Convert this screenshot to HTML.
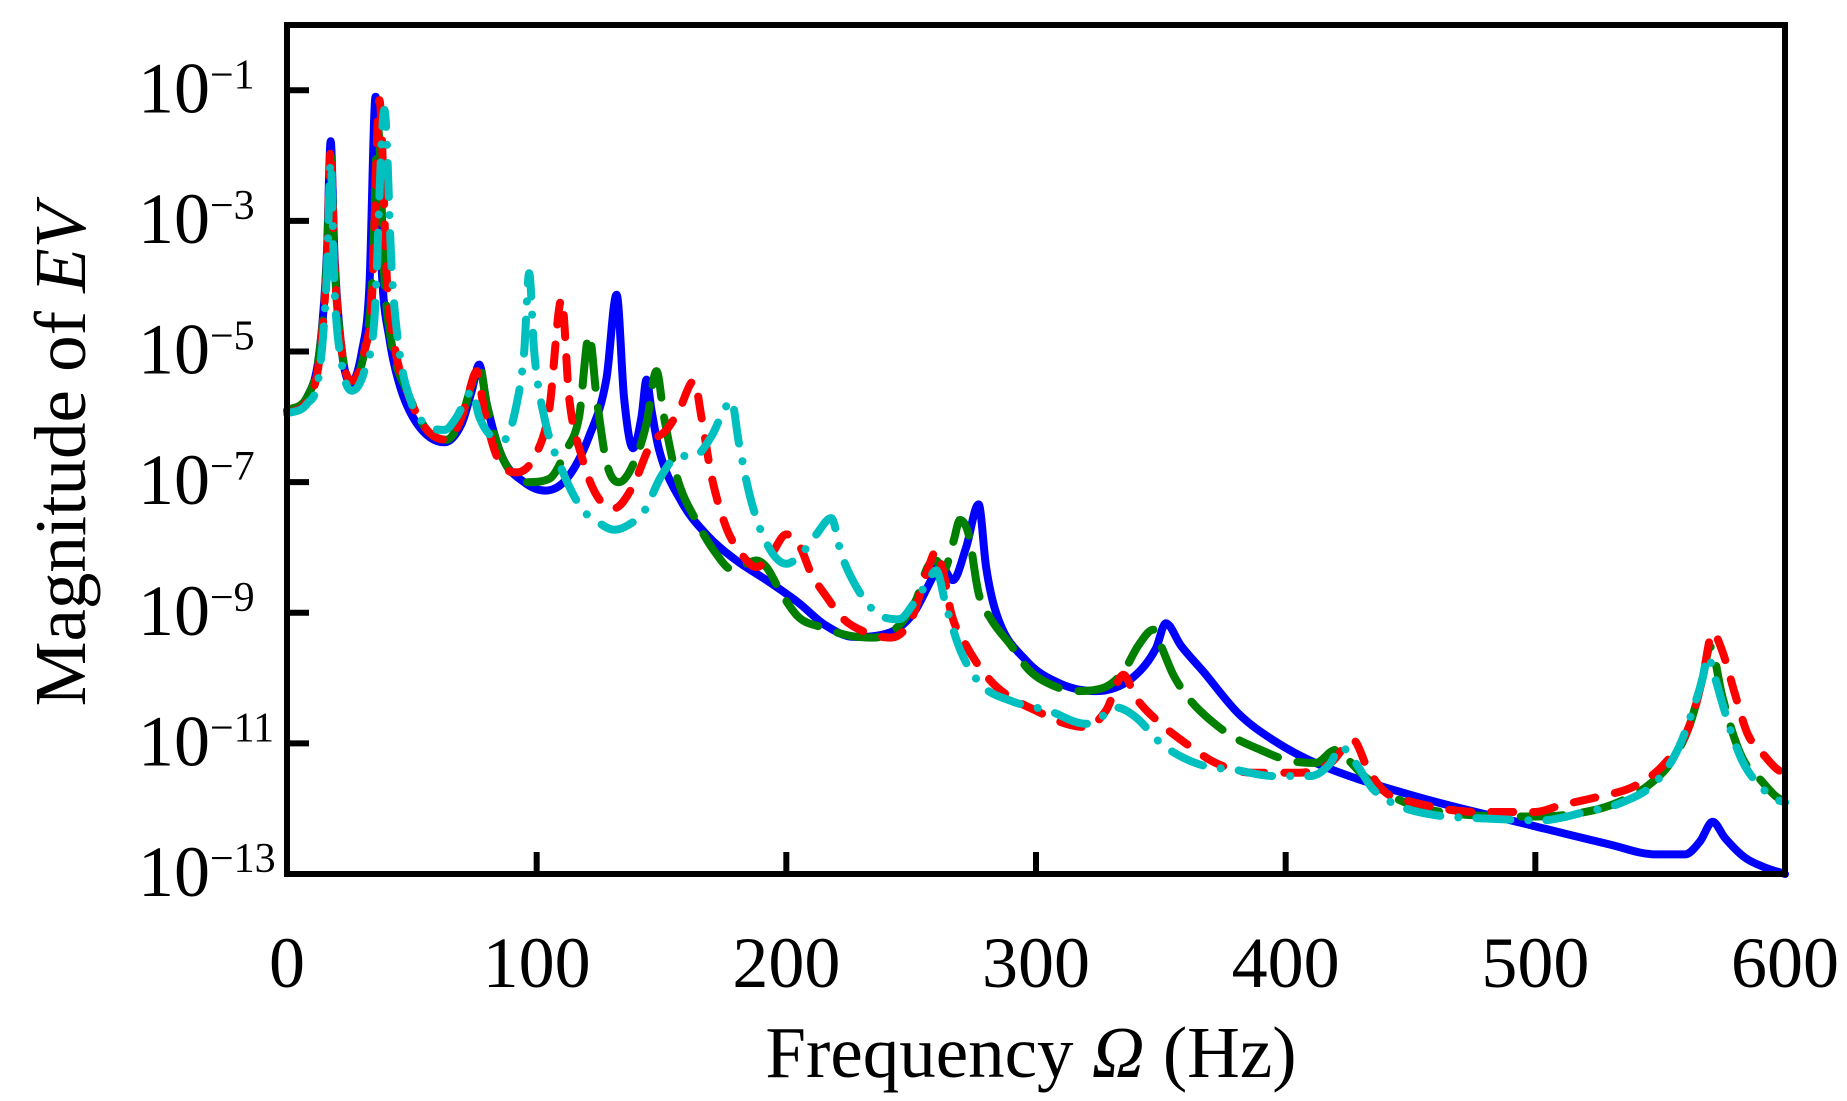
<!DOCTYPE html>
<html><head><meta charset="utf-8">
<style>
html,body{margin:0;padding:0;background:#fff;}
svg{display:block;}
text{font-family:"Liberation Serif","Times New Roman",serif;fill:#000;}
</style></head>
<body>
<svg id="chart" width="1847" height="1101" viewBox="0 0 1847 1101" xmlns="http://www.w3.org/2000/svg">
  <g id="series"></g>
  <g id="axes"></g>
  <text x="1031" y="1077" font-size="73" text-anchor="middle">Frequency <tspan font-style="italic">Ω</tspan> (Hz)</text>
  <text transform="translate(85,455) rotate(-90)" font-size="73" text-anchor="middle">Magnitude of <tspan font-style="italic">EV</tspan></text>
</svg>
<script>
// x ticks
const xTicks = [0,100,200,300,400,500,600];
// y tick exponents
const yTicks = [-1,-3,-5,-7,-9,-11,-13];

// Blue solid series: frequency (Hz) and log10 magnitude
const blueF = [0,8,13,16,17.5,19,22,25.5,30,33,35.5,38,41,45,52,63,70,74,77,80,86,95,103.5,112,121,128,132,135,138.6,142,144,146,149,158,168,180,192,205,215.6,227,241.6,251,258,261.5,266.7,272,277,280,284,296,310,324,338.5,348,352,358,367,381,395,412,451,499,530,548,560,566,571,576,584,592,600];
const blueL = [-5.93,-5.7,-5.0,-3.5,-1.78,-3.5,-5.0,-5.48,-5.0,-4.0,-1.1,-3.8,-4.8,-5.5,-6.1,-6.39,-6.1,-5.6,-5.2,-5.8,-6.6,-7.0,-7.13,-6.95,-6.3,-5.4,-4.13,-5.7,-6.48,-6.0,-5.43,-5.9,-6.5,-7.3,-7.8,-8.2,-8.5,-8.85,-9.19,-9.37,-9.3,-9.0,-8.5,-8.25,-8.5,-8.0,-7.34,-8.3,-9.0,-9.73,-10.09,-10.2,-10.0,-9.55,-9.16,-9.5,-9.9,-10.54,-10.95,-11.3,-11.8,-12.26,-12.55,-12.7,-12.7,-12.5,-12.2,-12.45,-12.75,-12.9,-13.0];

// Red dashed series
const redF = [0,8,13,16,17.5,19,22,26,31,34,37,40,43,48,56,64,70,73,76,79,84,92,100,105,110,113,118,124,131,138,146,152,157,163,166,170,176,182,188,194,200,205,210,216,223,232,242,250,257,260,263,266,272,282,290,300,312,320,328,335,340,350,360,372,387,405,418,427,433,440,451,477,500,510,525,540,552,562,567,571,575,580,585,592,597,600];
const redL = [-5.95,-5.75,-5.1,-3.6,-1.9,-3.6,-5.0,-5.45,-5.0,-4.2,-1.15,-3.9,-4.9,-5.6,-6.2,-6.35,-6.0,-5.6,-5.3,-5.9,-6.6,-6.85,-6.55,-5.9,-4.2,-5.7,-6.6,-7.2,-7.4,-7.1,-6.4,-6.2,-5.9,-5.45,-6.0,-6.9,-7.7,-8.1,-8.3,-8.1,-7.8,-7.95,-8.4,-8.75,-9.1,-9.3,-9.38,-9.1,-8.3,-8.05,-8.4,-9.0,-9.5,-10.05,-10.3,-10.5,-10.7,-10.75,-10.5,-9.95,-10.3,-10.7,-11.0,-11.3,-11.45,-11.45,-11.3,-10.95,-11.4,-11.75,-11.9,-12.05,-12.05,-11.95,-11.82,-11.65,-11.3,-10.7,-10.0,-9.3,-9.6,-10.25,-10.85,-11.2,-11.4,-11.45];

// Green long-dashed series
const greenF = [0,8,13,16,17.5,19,22,26,31,34,36.5,39,42,48,56,64,70,74,77,80,86,96,105,112,117,121,124,128,133,139,144,148,151,156,164,172,178,184,188,192,198,205,215,225,235,245,252,256.6,260,263,267,269.5,273,277,282,290,297,306,316,327,335,341,347,350,355,362,370,379,390,400,412,420,425,430,440,451,475,500,515,530,545,555,562,567,570,575,580,584,590,596,600];
const greenL = [-5.9,-5.7,-5.0,-3.6,-2.0,-3.6,-5.0,-5.45,-5.0,-4.0,-1.6,-3.9,-4.9,-5.6,-6.2,-6.35,-6.0,-5.5,-5.2,-5.8,-6.6,-7.0,-6.95,-6.5,-6.0,-4.75,-5.7,-6.7,-7.0,-6.7,-6.1,-5.3,-6.0,-6.9,-7.6,-8.1,-8.33,-8.25,-8.2,-8.3,-8.7,-9.07,-9.23,-9.35,-9.38,-9.2,-8.8,-8.3,-8.2,-8.35,-7.9,-7.58,-7.8,-8.7,-9.1,-9.5,-9.87,-10.1,-10.2,-10.15,-9.9,-9.5,-9.26,-9.5,-9.95,-10.35,-10.65,-10.9,-11.1,-11.25,-11.3,-11.1,-11.25,-11.45,-11.75,-11.95,-12.1,-12.12,-12.08,-11.95,-11.65,-11.25,-10.7,-10.0,-9.52,-10.3,-10.95,-11.3,-11.55,-11.8,-11.9];

// Cyan dash-dot series
const cyanF = [0,8,13,16,17.5,19,22,26,31,35,39,42,45,50,57,63,68,72,74,77,82,87,92,95,97,99,103,110,118,126,131,137,143,150,157,163,170,175,178,181,186,193,200,206,212,218,222,228,236,245,252,257,260,264,270,278,290,305,320,328,332,340,350,358,368,379,395,410,418,422,428,435,445,460,480,502,520,535,548,557,563,567,569,572,575,580,584,590,596,600];
const cyanL = [-5.95,-5.8,-5.3,-3.8,-2.1,-4.0,-5.2,-5.6,-5.3,-4.5,-1.3,-3.8,-5.0,-5.8,-6.15,-6.2,-6.0,-5.7,-5.6,-6.0,-6.3,-6.35,-5.8,-5.0,-3.8,-5.0,-6.0,-6.8,-7.4,-7.65,-7.73,-7.65,-7.45,-6.9,-6.6,-6.6,-6.3,-5.9,-5.75,-6.4,-7.3,-8.0,-8.25,-8.1,-7.8,-7.55,-8.1,-8.6,-9.0,-9.1,-8.8,-8.5,-8.35,-8.9,-9.6,-10.1,-10.35,-10.5,-10.7,-10.55,-10.45,-10.6,-11.0,-11.2,-11.35,-11.4,-11.5,-11.5,-11.3,-11.05,-11.3,-11.7,-11.95,-12.1,-12.15,-12.18,-12.05,-11.9,-11.6,-11.1,-10.5,-10.0,-9.67,-10.0,-10.4,-11.0,-11.35,-11.65,-11.85,-11.9];

const NS = "http://www.w3.org/2000/svg";
const X0 = 287, X1 = 1785, Y_TOP = 25, Y_BOT = 874;
const L_TOP = 0, L_BOT = -13;
function xs(f){ return X0 + (f - 0) / 600 * (X1 - X0); }
function ys(l){ return Y_TOP + (L_TOP - l) / (L_TOP - L_BOT) * (Y_BOT - Y_TOP); }

const seriesG = document.getElementById('series');
const axesG = document.getElementById('axes');

// monotone cubic (Fritsch-Carlson) path through points
function monoPath(px, py){
  const n = px.length, d = [], m = new Array(n);
  for (let i = 0; i < n - 1; i++) d.push((py[i+1]-py[i])/(px[i+1]-px[i]));
  m[0] = d[0]; m[n-1] = d[n-2];
  for (let i = 1; i < n - 1; i++){
    m[i] = (d[i-1]*d[i] <= 0) ? 0 : (d[i-1] + d[i]) / 2;
  }
  for (let i = 0; i < n - 1; i++){
    if (d[i] === 0){ m[i] = 0; m[i+1] = 0; continue; }
    const a = m[i]/d[i], b = m[i+1]/d[i], s = a*a + b*b;
    if (s > 9){ const t = 3/Math.sqrt(s); m[i] = t*a*d[i]; m[i+1] = t*b*d[i]; }
  }
  let p = 'M' + px[0].toFixed(1) + ',' + py[0].toFixed(1);
  for (let i = 0; i < n - 1; i++){
    const h = (px[i+1]-px[i]) / 3;
    p += 'C' + (px[i]+h).toFixed(1) + ',' + (py[i]+m[i]*h).toFixed(1) + ' ' +
         (px[i+1]-h).toFixed(1) + ',' + (py[i+1]-m[i+1]*h).toFixed(1) + ' ' +
         px[i+1].toFixed(1) + ',' + py[i+1].toFixed(1);
  }
  return p;
}

function drawSeries(F, L, color, dash, name){
  const p = document.createElementNS(NS, 'path');
  p.setAttribute('d', monoPath(F.map(xs), L.map(ys)));
  p.setAttribute('fill', 'none');
  p.setAttribute('stroke', color);
  p.setAttribute('stroke-width', '8');
  p.setAttribute('stroke-linecap', 'round');
  p.setAttribute('stroke-linejoin', 'round');
  if (dash) p.setAttribute('stroke-dasharray', dash);
  
  
  seriesG.appendChild(p);
}
drawSeries(blueF, blueL, '#0000ff', null, 'series-blue-solid');
drawSeries(greenF, greenL, '#007f00', '42 20', 'series-green-long-dash');
drawSeries(redF, redL, '#ff0000', '22 20', 'series-red-dashed');
drawSeries(cyanF, cyanL, '#00bfbf', '34 18 0.1 18', 'series-cyan-dash-dot');

// frame
const frame = document.createElementNS(NS, 'rect');
frame.setAttribute('x', X0); frame.setAttribute('y', Y_TOP);
frame.setAttribute('width', X1 - X0); frame.setAttribute('height', Y_BOT - Y_TOP);
frame.setAttribute('fill', 'none'); frame.setAttribute('stroke', '#000'); frame.setAttribute('stroke-width', '6');


axesG.appendChild(frame);

xTicks.forEach(v => {
  const x = xs(v);
  const t = document.createElementNS(NS, 'line');
  t.setAttribute('x1', x); t.setAttribute('x2', x);
  t.setAttribute('y1', Y_BOT); t.setAttribute('y2', Y_BOT - 22);
  t.setAttribute('stroke', '#000'); t.setAttribute('stroke-width', '6');
  
  
  axesG.appendChild(t);
  const lb = document.createElementNS(NS, 'text');
  lb.setAttribute('x', x); lb.setAttribute('y', 987);
  lb.setAttribute('font-size', '72'); lb.setAttribute('text-anchor', 'middle');
  lb.textContent = String(v);
  
  
  axesG.appendChild(lb);
});

yTicks.forEach(e => {
  const y = ys(e);
  const t = document.createElementNS(NS, 'line');
  t.setAttribute('x1', X0); t.setAttribute('x2', X0 + 22);
  t.setAttribute('y1', y); t.setAttribute('y2', y);
  t.setAttribute('stroke', '#000'); t.setAttribute('stroke-width', '6');
  
  
  axesG.appendChild(t);
  const lb = document.createElementNS(NS, 'text');
  lb.setAttribute('x', 138); lb.setAttribute('y', y + 22);
  lb.setAttribute('font-size', '72');
  
  
  const base = document.createElementNS(NS, 'tspan');
  base.textContent = '10';
  const sup = document.createElementNS(NS, 'tspan');
  sup.setAttribute('font-size', '42');
  sup.setAttribute('dy', '-24');
  sup.textContent = '\u2212' + String(-e);
  lb.appendChild(base); lb.appendChild(sup);
  axesG.appendChild(lb);
});
</script>
</body></html>
